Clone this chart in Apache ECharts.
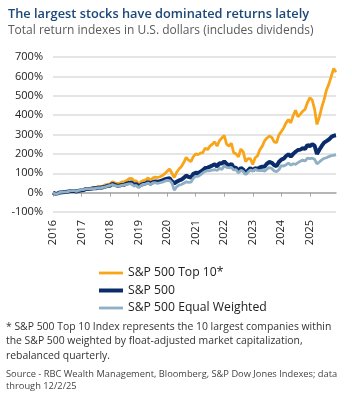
<!DOCTYPE html>
<html>
<head>
<meta charset="utf-8">
<script src="https://cdn.jsdelivr.net/npm/echarts@6/dist/echarts.min.js"></script>
<style>
  html, body { margin: 0; padding: 0; background: #fff; }
  #chart { width: 352px; height: 399px; }
</style>
</head>
<body>
<div id="chart"></div>
<script>
// year labels on the x axis, one category per month
const years = ['2016', '2017', '2018', '2019', '2020', '2021', '2022', '2023', '2024', '2025'];
const months = [];
years.forEach(y => {
    for (let m = 1; m <= 12; m++) months.push(y + '-' + (m < 10 ? '0' + m : m));
});

// cumulative total return, % (start of each month)
const top10 = [
    0, -6, -5, 0, 1, 3, 2, 8, 8, 9, 6, 8,
    10, 13, 18, 20, 23, 27, 27, 31, 32, 34, 40, 43,
    45, 56, 50, 47, 48, 55, 57, 62, 72, 74, 62, 60,
    45, 56, 62, 66, 76, 64, 76, 80, 78, 82, 88, 98,
    110, 122, 100, 78, 105, 122, 135, 155, 182, 168, 160, 186,
    200, 196, 204, 206, 230, 222, 240, 250, 262, 240, 268, 282,
    295, 250, 240, 255, 205, 200, 185, 225, 210, 160, 175, 175,
    145, 180, 190, 222, 240, 268, 282, 292, 285, 262, 258, 298,
    315, 334, 360, 377, 360, 398, 425, 392, 405, 420, 430, 465,
    490, 478, 430, 352, 390, 440, 480, 530, 560, 600, 640, 622
];
const sp500 = [
    0, -6, -4, 1, 2, 3, 4, 8, 8, 8, 6, 10,
    12, 14, 19, 19, 20, 22, 22, 25, 25, 28, 31, 35,
    36, 46, 40, 36, 37, 40, 41, 46, 51, 52, 42, 44,
    33, 40, 45, 48, 54, 46, 54, 58, 56, 59, 63, 68,
    72, 74, 58, 48, 56, 63, 67, 76, 88, 81, 77, 97,
    102, 101, 107, 116, 127, 129, 134, 140, 147, 135, 152, 150,
    161, 148, 140, 149, 128, 128, 109, 128, 119, 99, 115, 127,
    114, 127, 122, 130, 134, 135, 150, 158, 154, 142, 137, 158,
    170, 175, 189, 198, 186, 200, 211, 220, 222, 229, 226, 246,
    240, 250, 242, 200, 221, 241, 258, 266, 274, 287, 294, 296
];
const equalWeighted = [
    0, -7, -5, 2, 3, 4, 4, 9, 10, 10, 7, 12,
    15, 16, 20, 19, 20, 20, 22, 24, 24, 27, 29, 34,
    37, 42, 36, 34, 35, 38, 40, 43, 45, 45, 34, 37,
    26, 37, 43, 44, 50, 41, 50, 51, 48, 51, 54, 59,
    63, 62, 50, 12, 30, 39, 42, 48, 56, 53, 54, 74,
    84, 84, 92, 102, 110, 112, 113, 116, 119, 114, 125, 120,
    138, 130, 128, 130, 117, 118, 102, 115, 109, 93, 106, 117,
    111, 120, 115, 114, 115, 111, 122, 130, 124, 112, 108, 118,
    140, 137, 144, 152, 142, 149, 146, 155, 162, 168, 163, 178,
    175, 178, 172, 148, 158, 169, 177, 180, 186, 191, 192, 196
];

const names = ['S&P 500 Top 10*', 'S&P 500', 'S&P 500 Equal Weighted'];
const colors = ['#F9A51A', '#0A2C6B', '#8FB0C4'];
const widths = [2.8, 4, 2.8];

const footnote = [
    '* S&P 500 Top 10 Index represents the 10 largest companies within',
    'the S&P 500 weighted by float-adjusted market capitalization,',
    'rebalanced quarterly.'
];
const source = [
    'Source - RBC Wealth Management, Bloomberg, S&P Dow Jones Indexes; data',
    'through 12/2/25'
];

const font = '"Open Sans", sans-serif';
const chart = echarts.init(document.getElementById('chart'), null, { renderer: 'canvas' });

const graphics = [];
footnote.forEach((t, i) => {
    graphics.push({
        type: 'text', left: 6, top: 322 + i * 14.5,
        style: { text: t, font: '10.4px ' + font, fill: '#333' }
    });
});
source.forEach((t, i) => {
    graphics.push({
        type: 'text', left: 6, top: 370 + i * 12,
        style: { text: t, font: '9.3px ' + font, fill: '#444' }
    });
});

chart.setOption({
    animation: false,
    title: {
        text: 'The largest stocks have dominated returns lately',
        subtext: 'Total return indexes in U.S. dollars (includes dividends)',
        left: 3,
        top: 3,
        itemGap: 4,
        textStyle: { fontFamily: font, fontSize: 12.8, fontWeight: 600, color: '#1B4779' },
        subtextStyle: { fontFamily: font, fontSize: 12, color: '#5a5a5a' }
    },
    legend: {
        data: names.map((n, i) => ({
            name: n,
            icon: 'path://M0,0H24V' + widths[i] + 'H0Z'
        })),
        orient: 'vertical',
        left: 94,
        top: 262,
        itemWidth: 24,
        itemHeight: 12,
        itemGap: 5.5,
        textStyle: { fontFamily: font, fontSize: 12.2, color: '#222' }
    },
    grid: { left: 53, right: 16, top: 57, bottom: 187 },
    xAxis: {
        type: 'category',
        data: months,
        boundaryGap: false,
        axisLine: { onZero: true, lineStyle: { color: '#a6a6a6', width: 1.5 } },
        axisTick: {
            interval: (i) => i % 12 === 0,
            length: 4,
            lineStyle: { color: '#a6a6a6' }
        },
        axisLabel: {
            interval: (i) => i % 12 === 0,
            formatter: (v) => v.slice(0, 4),
            rotate: 90,
            margin: 8,
            fontFamily: font,
            fontSize: 11,
            color: '#222'
        },
        splitLine: { show: false }
    },
    yAxis: {
        type: 'value',
        min: -100,
        max: 700,
        interval: 100,
        axisLine: { show: false },
        axisTick: { show: false },
        axisLabel: {
            formatter: '{value}%',
            margin: 10,
            fontFamily: font,
            fontSize: 11,
            color: '#222'
        },
        splitLine: { lineStyle: { color: '#dcdcdc', width: 1.5 } }
    },
    series: [
        { name: names[0], type: 'line', data: top10, symbol: 'none',
          lineStyle: { color: colors[0], width: widths[0] }, itemStyle: { color: colors[0] } },
        { name: names[1], type: 'line', data: sp500, symbol: 'none',
          lineStyle: { color: colors[1], width: widths[1] }, itemStyle: { color: colors[1] } },
        { name: names[2], type: 'line', data: equalWeighted, symbol: 'none',
          lineStyle: { color: colors[2], width: widths[2] }, itemStyle: { color: colors[2] } }
    ],
    graphic: graphics
});
</script>
</body>
</html>
